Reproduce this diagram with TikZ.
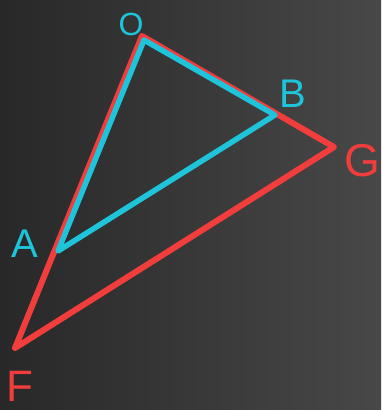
\documentclass[tikz,border=0pt]{standalone}
\usepackage{fontspec}
\setmainfont{Liberation Sans}
\definecolor{chalkred}{HTML}{F23D3D}
\definecolor{chalkcyan}{HTML}{1EC4DA}
\definecolor{boardL}{HTML}{282828}
\definecolor{boardR}{HTML}{484848}
\begin{document}
\begin{tikzpicture}[x=1pt,y=-1pt,
  redline/.style={draw=chalkred,line width=6pt,line join=round,line cap=round},
  cyanline/.style={draw=chalkcyan,line width=5.5pt,line join=round,line cap=round},
  lbl/.style={font=\fontsize{40}{40}\selectfont,inner sep=0pt}]
\shade[left color=boardL,right color=boardR] (0,0) rectangle (381,410);
\useasboundingbox (0,0) rectangle (381,410);
\coordinate (O) at (142,36);
\coordinate (G) at (334,147);
\coordinate (F) at (15,348);
\coordinate (Oc) at (144,40);
\coordinate (B) at (275,115);
\coordinate (A) at (58,251);
\draw[redline] (O) -- (G) -- (F) -- cycle;
\draw[cyanline] (Oc) -- (B) -- (A) -- cycle;
\node[lbl,text=chalkcyan,font=\fontsize{32}{32}\selectfont] (lO) at (131,24) {O};
\node[lbl,text=chalkcyan] (lB) at (293,94) {B};
\node[lbl,text=chalkred,font=\fontsize{46}{46}\selectfont] (lG) at (362,161) {G};
\node[lbl,text=chalkcyan] (lA) at (25,244) {A};
\node[lbl,text=chalkred,font=\fontsize{44}{44}\selectfont] (lF) at (20,386) {F};
\end{tikzpicture}
\end{document}
